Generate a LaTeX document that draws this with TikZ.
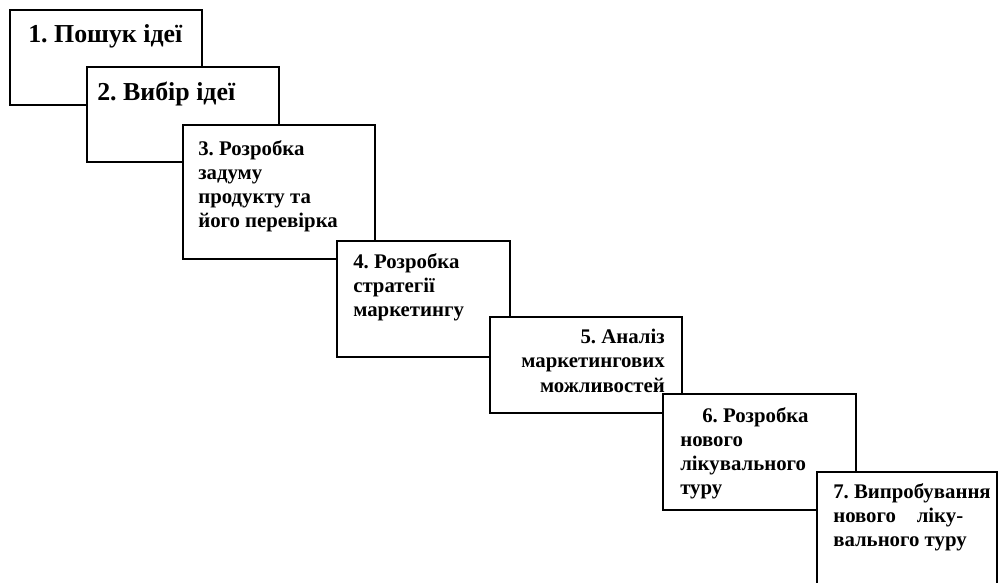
\documentclass[tikz,border=0pt]{standalone}
\usepackage{fontspec}
\setmainfont{Liberation Serif}
\frenchspacing

\begin{document}
\begin{tikzpicture}[x=0.75pt, y=-0.75pt,
    stage/.style={draw=black, fill=white, line width=1.1pt},
    stagetext/.style={inner sep=0pt, anchor=north west, align=left,
        font=\bfseries\fontsize{15.6}{18.2}\selectfont, execute at begin node=\strut},
    bigtext/.style={stagetext, font=\bfseries\fontsize{19.4}{20}\selectfont}]

\useasboundingbox (0,0) rectangle (998,582);
\clip (0,0) rectangle (998,582);

\filldraw[stage] (10,10) rectangle (202,105);
\node[bigtext] (t1) at (28,23.3) {1. Пошук ідеї};

\filldraw[stage] (87,67) rectangle (279,162);
\node[bigtext] (t2) at (97,81.3) {2. Вибір ідеї};

\filldraw[stage] (183,125) rectangle (375,259);
\node[stagetext] (t3) at (198,140) {3. Розробка\\задуму\\продукту та\\його перевірка};

\filldraw[stage] (337,241) rectangle (510,357);
\node[stagetext] (t4) at (353,253) {4. Розробка\\стратегії\\маркетингу};

\filldraw[stage] (490,317) rectangle (682,413);
\node[stagetext, anchor=north east, align=right] (t5) at (665,329) {5. Аналіз\\маркетингових\\можливостей};

\filldraw[stage] (663,394) rectangle (856,510);
\node[stagetext] (t6) at (680,407) {\hspace*{16.5pt}6. Розробка\\нового\\лікувального\\туру};

% last box runs off the page
\filldraw[stage] (817,472) rectangle (997,600);
\node[stagetext] (t7) at (833,483) {7. Випробування\\нового\quad ліку-\\вального туру};

\end{tikzpicture}
\end{document}
